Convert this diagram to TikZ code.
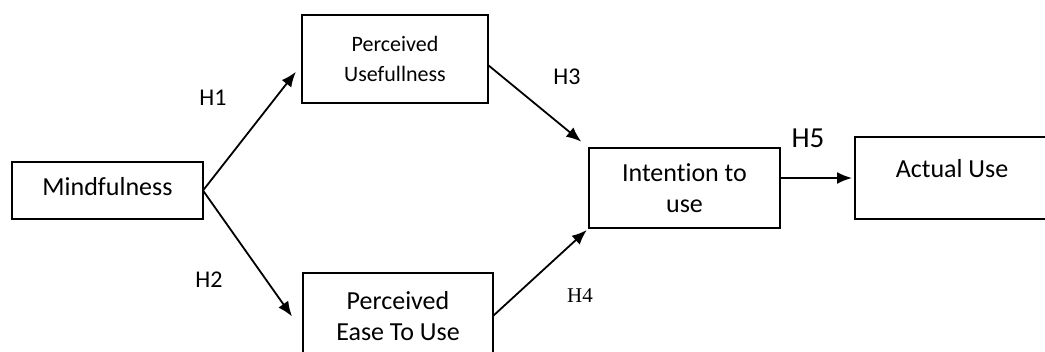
\documentclass[tikz,border=0pt]{standalone}
\usepackage{fontspec}
\setmainfont{Carlito}[Ligatures={NoCommon}]
\newfontfamily\timesfont{Liberation Serif}
\usetikzlibrary{arrows.meta}
\tikzset{%
    >={Latex[length=4mm]}
}

\begin{document}
\begin{tikzpicture}[x=1pt, y=-1pt, >={Latex[length=15pt,width=12pt]},
    box/.style={draw, line width=1.8pt, inner sep=0pt, outer sep=0pt,
                font=\fontsize{26}{31}\selectfont},
    hyp/.style={font=\fontsize{24}{28}\selectfont},
    link/.style={->, line width=1.8pt}]
  \useasboundingbox (0,0) rectangle (1045,352);

  \node[box, minimum width=191pt, minimum height=57pt, text depth=9pt] (mind) at (107.5,190.5) {Mindfulness};
  \node[box, minimum width=186pt, minimum height=88pt, align=center,
        font=\fontsize{22}{30}\selectfont] (pu) at (395,59) {Perceived\\Usefullness};
  \node[box, minimum width=190pt, minimum height=86pt, align=center] (peou) at (398,316) {Perceived\\Ease To Use};
  \node[box, minimum width=191pt, minimum height=80pt, align=center] (intent) at (684.5,188) {Intention to\\use};
  \node[box, minimum width=194pt, minimum height=82pt, text height=20pt, text depth=20pt] (actual) at (952,178) {Actual Use};

  \draw[link, shorten >=10pt] (mind.east) -- ([yshift=-5pt]pu.west);
  \draw[link, shorten >=19pt] (mind.east) -- ([yshift=-16pt]peou.west);
  \draw[link, shorten >=10pt] ([yshift=-6pt]pu.east) -- (intent.north west);
  \draw[link, shorten >=3pt] (peou.east) -- (intent.south west);
  \draw[link, shorten >=3pt] (intent.east |- actual.west) -- (actual.west);

  \node[hyp] (h1) at (213,98) {H1};
  \node[hyp] (h2) at (209,280) {H2};
  \node[hyp] (h3) at (567,77) {H3};
  \node[font=\fontsize{21}{24}\timesfont] (h4) at (580,296) {H4};
  \node[font=\fontsize{29}{34}\selectfont] (h5) at (808,138) {H5};
\end{tikzpicture}
\end{document}
